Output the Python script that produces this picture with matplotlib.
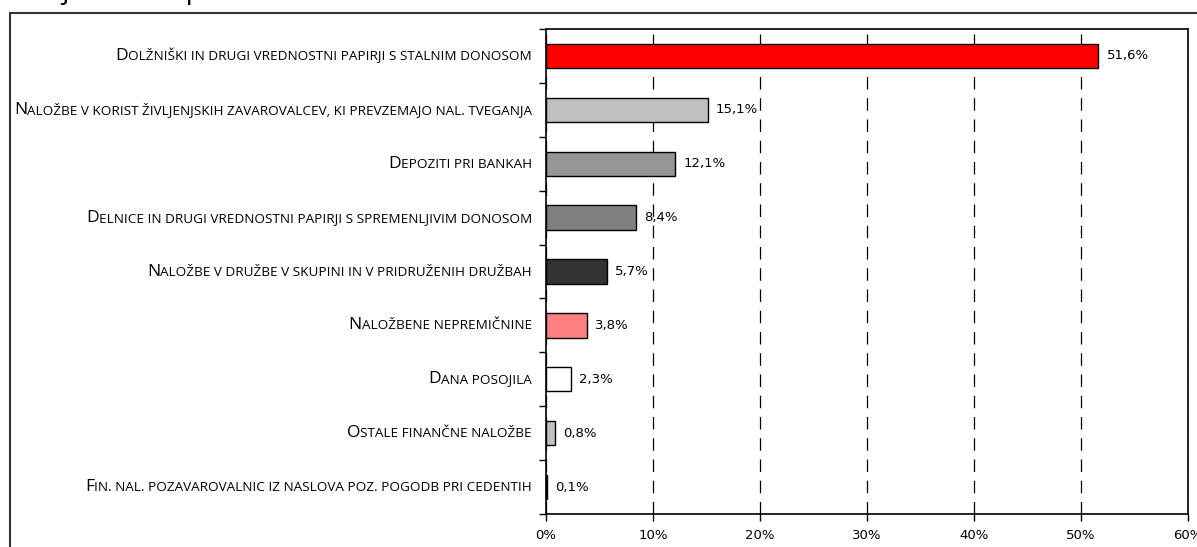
import numpy as np
import matplotlib
matplotlib.use("Agg")
import matplotlib.pyplot as plt
from matplotlib.patches import Rectangle
from matplotlib.transforms import ScaledTranslation, blended_transform_factory

# Podatki
kategorije = [
    "Dolžniški in drugi vrednostni papirji s stalnim donosom",
    "Naložbe v korist življenjskih zavarovalcev, ki prevzemajo nal. tveganja",
    "Depoziti pri bankah",
    "Delnice in drugi vrednostni papirji s spremenljivim donosom",
    "Naložbe v družbe v skupini in v pridruženih družbah",
    "Naložbene nepremičnine",
    "Dana posojila",
    "Ostale finančne naložbe",
    "Fin. nal. pozavarovalnic iz naslova poz. pogodb pri cedentih",
]
delezi = [51.6, 15.1, 12.1, 8.4, 5.7, 3.8, 2.3, 0.8, 0.1]
barve = ["#FF0000", "#C0C0C0", "#969696", "#808080", "#333333",
         "#FF8080", "#FFFFFF", "#C0C0C0", "#FFFFFF"]
x_ticki = [0, 10, 20, 30, 40, 50, 60]

W, H = 1197, 547
fig = plt.figure(figsize=(W / 100, H / 100), dpi=100)
ax = fig.add_axes([546 / W, 1 - 514 / H, (1188 - 546) / W, (514 - 29) / H])

y = np.arange(len(kategorije))
ax.barh(y, delezi, height=0.45, color=barve, edgecolor="black", linewidth=1, zorder=3)

for i, v in enumerate(delezi):
    ax.annotate(f"{v:.1f}%".replace(".", ","), (v, i), xytext=(6, 0),
                textcoords="offset points", va="center", ha="left",
                fontsize=9.5, family="DejaVu Sans", zorder=4)

ax.set_xlim(0, 60)
ax.set_ylim(len(kategorije) - 0.5, -0.5)
ax.set_xticks(x_ticki)
ax.set_xticklabels([f"{t}%" for t in x_ticki], fontsize=9.5)
ax.tick_params(axis="x", direction="out", length=5, width=1, pad=6)
ax.xaxis.grid(True, linestyle=(0, (10, 7)), color="black", linewidth=0.9)
ax.set_axisbelow(True)

ax.set_yticks(y)
ax.set_yticklabels([])
ax.tick_params(axis="y", which="major", length=0)
ax.set_yticks(np.arange(-0.5, len(kategorije), 1), minor=True)
ax.tick_params(axis="y", which="minor", direction="out", length=5, width=1)
for s in ax.spines.values():
    s.set_linewidth(1.2)

# Oznake kategorij v pomanjšanih velikih črkah (small caps)
trans = blended_transform_factory(ax.transAxes, ax.transData)
fig.canvas.draw()
renderer = fig.canvas.get_renderer()
for i, ime in enumerate(kategorije):
    premik = ScaledTranslation(-14 / 100, -4 / 100, fig.dpi_scale_trans)
    ostalo = ax.text(0, i, ime[1:].upper(), ha="right", va="baseline",
                     fontsize=9.7, family="Open Sans", transform=trans + premik)
    sirina = ostalo.get_window_extent(renderer).width
    premik2 = ScaledTranslation(-(14 + sirina) / 100, -4 / 100, fig.dpi_scale_trans)
    ax.text(0, i, ime[0], ha="right", va="baseline", fontsize=12.5,
            family="Open Sans", transform=trans + premik2)

# Okvir grafikona
fig.patches.append(Rectangle((10 / W, -0.5), 2, 1.5 - 13 / H, transform=fig.transFigure,
                             fill=False, edgecolor="#333333", linewidth=1.5))
fig.text(5 / W, 1 + 2 / H, "Stanje naložb pozavarovalnic", ha="left", va="baseline",
         fontsize=20, family="Open Sans")

fig.savefig("out.png", dpi=100)
